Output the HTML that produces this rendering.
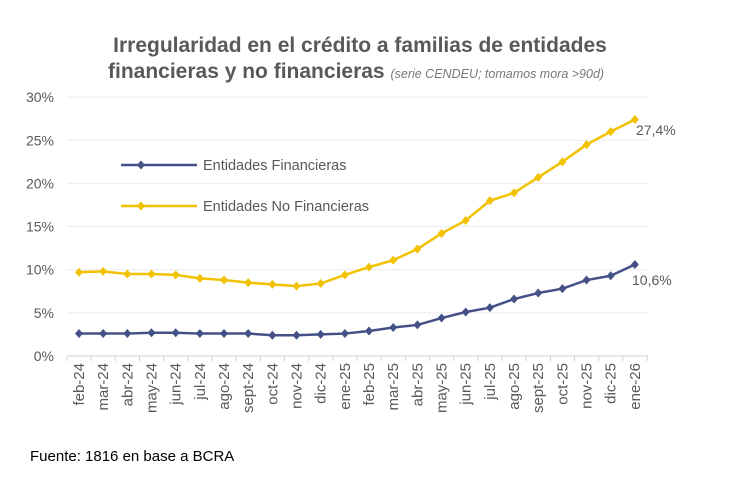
<!DOCTYPE html>
<html><head><meta charset="utf-8"><style>
body{margin:0;background:#fff;}
svg{display:block;font-family:"Liberation Sans",sans-serif;}
</style></head><body>
<svg id="s" width="730" height="486" viewBox="0 0 730 486">
<text x="360" y="52" text-anchor="middle" font-size="21" font-weight="bold" fill="#595959">Irregularidad en el crédito a familias de entidades</text>
<text x="108" y="78" font-size="21" font-weight="bold" fill="#595959">financieras y no financieras <tspan font-size="12.5" font-weight="normal" font-style="italic" fill="#777">(serie CENDEU; tomamos mora &gt;90d)</tspan></text>
<g id="g"></g>
<text x="30" y="461" font-size="15" fill="#000">Fuente: 1816 en base a BCRA</text>
</svg>
<script>
const g=document.getElementById('g');let h='';
const y=v=>356-v*8.63, x=i=>79+i*24.17;
for(let k=0;k<=6;k++){const yy=y(k*5);
 if(k>0)h+=`<line x1="67" x2="648" y1="${yy}" y2="${yy}" stroke="#ececec"/>`;
 h+=`<text x="54" y="${yy+5}" text-anchor="end" font-size="14" fill="#595959">${k*5}%</text>`;}
h+=`<line x1="67" x2="648" y1="356" y2="356" stroke="#d0d0d0"/>`;
const L=["feb-24","mar-24","abr-24","may-24","jun-24","jul-24","ago-24","sept-24","oct-24","nov-24","dic-24","ene-25","feb-25","mar-25","abr-25","may-25","jun-25","jul-25","ago-25","sept-25","oct-25","nov-25","dic-25","ene-26"];
for(let i=0;i<=24;i++){const xx=67+i*24.17;h+=`<line x1="${xx}" x2="${xx}" y1="356" y2="361" stroke="#d0d0d0"/>`;}
L.forEach((l,i)=>{h+=`<text transform="translate(${x(i)+5},363) rotate(-90)" text-anchor="end" font-size="15" fill="#595959">${l}</text>`;});
const Y=[9.7,9.8,9.5,9.5,9.4,9.0,8.8,8.5,8.3,8.1,8.4,9.4,10.3,11.1,12.4,14.2,15.7,18.0,18.9,20.7,22.5,24.5,26.0,27.4];
const B=[2.6,2.6,2.6,2.7,2.7,2.6,2.6,2.6,2.4,2.4,2.5,2.6,2.9,3.3,3.6,4.4,5.1,5.6,6.6,7.3,7.8,8.8,9.3,10.6];
function ser(d,c){h+=`<polyline fill="none" stroke="${c}" stroke-width="2.5" points="${d.map((v,i)=>x(i)+','+y(v)).join(' ')}"/>`;
 d.forEach((v,i)=>{const a=x(i),b=y(v);h+=`<path d="M${a} ${b-4.5}L${a+4} ${b}L${a} ${b+4.5}L${a-4} ${b}Z" fill="${c}"/>`;});}
ser(Y,"#f2c200");ser(B,"#435187");
h+=`<text x="636" y="135" font-size="14" fill="#595959">27,4%</text><text x="632" y="285" font-size="14" fill="#595959">10,6%</text>`;
h+=`<line x1="121" x2="197" y1="165" y2="165" stroke="#435187" stroke-width="2.5"/><path d="M141 160.5L145 165L141 169.5L137 165Z" fill="#435187"/><text x="203" y="170" font-size="14.5" fill="#595959">Entidades Financieras</text>`;
h+=`<line x1="121" x2="197" y1="206" y2="206" stroke="#f2c200" stroke-width="2.5"/><path d="M141 201.5L145 206L141 210.5L137 206Z" fill="#f2c200"/><text x="203" y="211" font-size="14.5" fill="#595959">Entidades No Financieras</text>`;
g.innerHTML=h;
</script>
</body></html>
